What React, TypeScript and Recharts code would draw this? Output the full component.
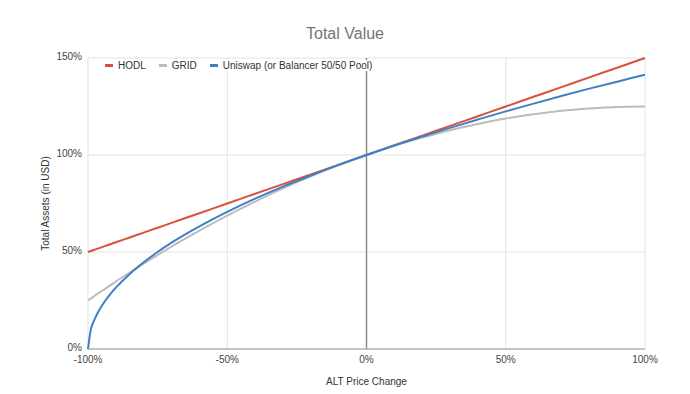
import {
  LineChart, Line, XAxis, YAxis, CartesianGrid,
  ReferenceLine,
} from 'recharts'

// ALT price change (%), sampled denser near -100% where the Uniswap curve is steep
const priceChange = [-100, -99, -98, -96, -94, -92, -90, -85, -80, -75, -70, -60, -50, -40, -30, -20, -10, 0, 10, 20, 30, 40, 50, 60, 70, 80, 90, 100]

const hodl = [50, 50.5, 51, 52, 53, 54, 55, 57.5, 60, 62.5, 65, 70, 75, 80, 85, 90, 95, 100, 105, 110, 115, 120, 125, 130, 135, 140, 145, 150]
const grid = [25, 26, 27, 29, 30.9, 32.8, 34.8, 39.4, 44, 48.4, 52.8, 61, 68.8, 76, 82.8, 89, 94.8, 100, 104.8, 109, 112.8, 116, 118.8, 121, 122.8, 124, 124.8, 125]
const uniswap = [0, 10, 14.1, 20, 24.5, 28.3, 31.6, 38.7, 44.7, 50, 54.8, 63.2, 70.7, 77.5, 83.7, 89.4, 94.9, 100, 104.9, 109.5, 114, 118.3, 122.5, 126.5, 130.4, 134.2, 137.8, 141.4]

const xTicks = [-100, -50, 0, 50, 100]
const yTicks = [0, 50, 100, 150]

const series = [
  { key: 'hodl', name: 'HODL', color: '#d9503f' },
  { key: 'grid', name: 'GRID', color: '#bcbcbc' },
  { key: 'uniswap', name: 'Uniswap (or Balancer 50/50 Pool)', color: '#3f7fc6' },
]

const data = priceChange.map((x, i) => ({
  x,
  hodl: hodl[i],
  grid: grid[i],
  uniswap: uniswap[i],
}))

const FONT = '"Liberation Sans", Arial, sans-serif'

function ChartLegend() {
  return (
    <div
      style={{
        position: 'absolute', top: 60, left: 105, display: 'flex', alignItems: 'center',
        fontFamily: FONT, fontSize: 10, color: '#333', background: '#fff',
      }}
    >
      {series.map(s => (
        <div key={s.key} style={{ display: 'flex', alignItems: 'center', marginRight: 13 }}>
          <div style={{ width: 8, height: 3, background: s.color, marginRight: 5 }} />
          <span>{s.name}</span>
        </div>
      ))}
    </div>
  )
}

export default function App() {
  return (
    <div style={{ position: 'absolute', left: 0, top: 0, width: 690, height: 394, background: '#fff' }}>
      <div
        style={{
          position: 'absolute', top: 25, width: 690, textAlign: 'center',
          fontFamily: FONT, fontSize: 16, color: '#757575',
        }}
      >
        Total Value
      </div>
      <LineChart
        width={690}
        height={394}
        data={data}
        margin={{ top: 58, right: 45, bottom: 0, left: 28 }}
      >
        <CartesianGrid stroke="#e3e3e3" />
        <XAxis
          dataKey="x"
          type="number"
          domain={[-100, 100]}
          ticks={xTicks}
          tickFormatter={v => `${v}%`}
          tick={{ fontSize: 10, fontFamily: FONT, fill: '#444' }}
          tickSize={0}
          tickMargin={7}
          axisLine={{ stroke: '#999' }}
          height={45}
          label={{ value: 'ALT Price Change', position: 'insideBottom', offset: 9, style: { fontSize: 10, fontFamily: FONT, fill: '#333' } }}
        />
        <YAxis
          type="number"
          domain={[0, 150]}
          ticks={yTicks}
          tickFormatter={v => `${v}%`}
          tick={{ fontSize: 10, fontFamily: FONT, fill: '#444', dy: -2 }}
          tickSize={0}
          tickMargin={6}
          axisLine={false}
          width={60}
          label={{ value: 'Total Assets (in USD)', angle: -90, position: 'insideLeft', offset: 17, style: { textAnchor: 'middle', fontSize: 10, fontFamily: FONT, fill: '#333' } }}
        />
        <ReferenceLine x={0} stroke="#8a8a8a" strokeWidth={1.5} />
        {series.map(s => (
          <Line
            key={s.key}
            dataKey={s.key}
            name={s.name}
            type="monotone"
            stroke={s.color}
            strokeWidth={2}
            dot={false}
            isAnimationActive={false}
          />
        ))}
      </LineChart>
      <ChartLegend />
    </div>
  )
}
